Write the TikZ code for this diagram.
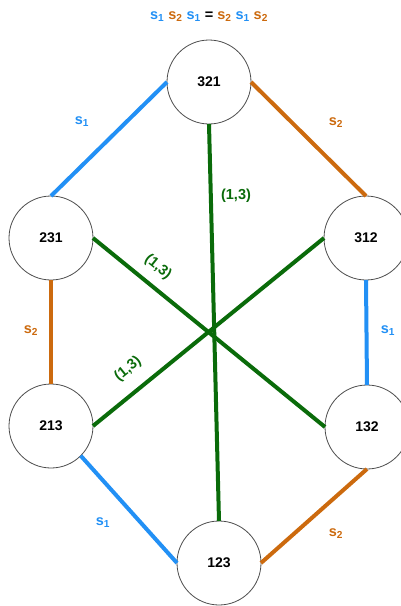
\documentclass[tikz,border=0pt]{standalone}
\usepackage{fontspec}
\setmainfont{Liberation Sans}
\definecolor{azul}{HTML}{2290F5}
\definecolor{laranja}{HTML}{CC6A0E}
\definecolor{verde}{HTML}{0A6B0A}

\begin{document}
\begin{tikzpicture}[x=1pt, y=-1pt,
    perm/.style={circle, draw=black!70, fill=white, line width=0.8pt, minimum size=84pt, inner sep=0pt, outer sep=0pt, font=\bfseries\fontsize{14}{16}\selectfont},
    gen1/.style={azul, line width=4pt},
    gen2/.style={laranja, line width=4pt},
    transp/.style={verde, line width=4pt},
    rot/.style={font=\bfseries\fontsize{14.5}{16}\selectfont}]
            \useasboundingbox (0,0) rectangle (400,606);
            % Nodes
            \node[perm] (p321) at (209,82) {321};
            \node[perm] (p231) at (51,238) {231};
            \node[perm] (p312) at (366,238) {312};
            \node[perm] (p213) at (51,426) {213};
            \node[perm] (p132) at (367,427) {132};
            \node[perm] (p123) at (219,563) {123};
            % Arestas
            \draw[gen1] (p321.west) -- (p231.north);
            \draw[gen2] (p321.east) -- (p312.north);
            \draw[gen2] (p231.south) -- (p213.north);
            \draw[gen1] (p312.south) -- (p132.north);
            \draw[gen1] (p213.-45) -- (p123.west);
            \draw[gen2] (p132.south) -- (p123.east);
            \draw[transp] (p321.south) -- (p123.north);
            \draw[transp] (p231.east) -- (p132.west);
            \draw[transp] (p312.west) -- (p213.east);
            % Rotulos
            \node[rot, azul] (l1) at (82,122) {s\textsubscript{1}};
            \node[rot, laranja] (l2) at (336,123) {s\textsubscript{2}};
            \node[rot, laranja] (l3) at (31,331) {s\textsubscript{2}};
            \node[rot, azul] (l4) at (388,331) {s\textsubscript{1}};
            \node[rot, azul] (l5) at (103,523) {s\textsubscript{1}};
            \node[rot, laranja] (l6) at (336,534) {s\textsubscript{2}};
            \node[rot, verde] (t1) at (236,196) {(1,3)};
            \node[rot, verde, rotate=-39] (t2) at (158,267) {(1,3)};
            \node[rot, verde, rotate=39] (t3) at (128,369) {(1,3)};
            \node[rot] (eq) at (209,17) {\color{azul}s\textsubscript{1} \color{laranja}s\textsubscript{2} \color{azul}s\textsubscript{1} \color{black}= \color{laranja}s\textsubscript{2} \color{azul}s\textsubscript{1} \color{laranja}s\textsubscript{2}};
        \end{tikzpicture}
\end{document}
